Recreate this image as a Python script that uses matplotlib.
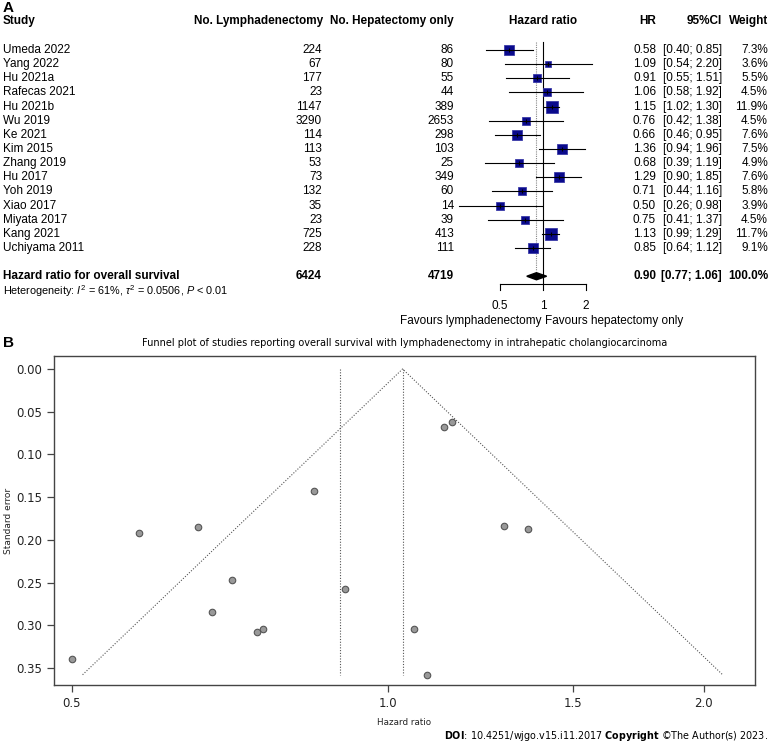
import numpy as np
import matplotlib
matplotlib.use('Agg')
import matplotlib.pyplot as plt
import matplotlib.transforms as mtransforms

# forest plot data (panel A)
studies = ["Umeda 2022", "Yang 2022", "Hu 2021a", "Rafecas 2021", "Hu 2021b",
           "Wu 2019", "Ke 2021", "Kim 2015", "Zhang 2019", "Hu 2017",
           "Yoh 2019", "Xiao 2017", "Miyata 2017", "Kang 2021", "Uchiyama 2011"]
n_lymph = [224, 67, 177, 23, 1147, 3290, 114, 113, 53, 73, 132, 35, 23, 725, 228]
n_hep = [86, 80, 55, 44, 389, 2653, 298, 103, 25, 349, 60, 14, 39, 413, 111]
hr = [0.58, 1.09, 0.91, 1.06, 1.15, 0.76, 0.66, 1.36, 0.68, 1.29, 0.71, 0.50, 0.75, 1.13, 0.85]
ci_lo = [0.40, 0.54, 0.55, 0.58, 1.02, 0.42, 0.46, 0.94, 0.39, 0.90, 0.44, 0.26, 0.41, 0.99, 0.64]
ci_hi = [0.85, 2.20, 1.51, 1.92, 1.30, 1.38, 0.95, 1.96, 1.19, 1.85, 1.16, 0.98, 1.37, 1.29, 1.12]
weight = [7.3, 3.6, 5.5, 4.5, 11.9, 4.5, 7.6, 7.5, 4.9, 7.6, 5.8, 3.9, 4.5, 11.7, 9.1]

total_lymph = 6424
total_hep = 4719
pooled_hr, pooled_lo, pooled_hi = 0.90, 0.77, 1.06
forest_ticks = [0.5, 1, 2]

# funnel plot data (panel B): standard errors
se = [0.192, 0.358, 0.258, 0.305, 0.062, 0.304, 0.185, 0.187, 0.285, 0.184,
      0.247, 0.339, 0.308, 0.068, 0.143]
fixed_hr = 1.033
funnel_xticks = [0.5, 1.0, 1.5, 2.0]
funnel_yticks = [0.00, 0.05, 0.10, 0.15, 0.20, 0.25, 0.30, 0.35]

W, H = 771, 744
fig = plt.figure(figsize=(W / 100, H / 100), dpi=100)


def fx(px):
    return px / W


def fy(py):
    return 1 - py / H


arial = 'Liberation Sans'
tahoma = 'DejaVu Sans'
plt.rcParams['mathtext.fontset'] = 'custom'
plt.rcParams['mathtext.rm'] = arial
plt.rcParams['mathtext.it'] = arial + ':italic'
plt.rcParams['mathtext.bf'] = arial + ':bold'

# ---------------- panel A ----------------
row0, step = 50, 14.14
top_row, bot_row = -3, 20
axf = fig.add_axes([fx(440), fy(row0 + bot_row * step), fx(600) - fx(440),
                    (bot_row - top_row) * step / H])
axf.set_xscale('log')
axf.set_xlim(2 ** ((440 - 543) / 43), 2 ** ((600 - 543) / 43))
axf.set_ylim(bot_row, top_row)
axf.axis('off')

trans = mtransforms.blended_transform_factory(fig.transFigure, axf.transData)
fs = 8.5
navy = '#0a0a8c'

rows = np.arange(len(studies))
overall_row = 16
axis_row = 16.55

# reference lines
axf.plot([1, 1], [-0.6, axis_row], color='black', lw=0.8, zorder=1)
axf.plot([pooled_hr, pooled_hr], [-0.6, 15.6], color='#888888', lw=0.8,
         ls=(0, (1, 1)), zorder=1)

for i in rows:
    axf.plot([ci_lo[i], ci_hi[i]], [i, i], color='black', lw=0.8, zorder=3)
    side = 12.5 * np.sqrt(weight[i] / 11.9) * 0.72
    axf.plot(hr[i], i, marker='s', ms=side, color=navy, mec='#3a3aa8', mew=0.6,
             zorder=2)
    axf.plot(hr[i], i, marker='|', ms=3, color='black', mew=0.8, zorder=4)

# diamond for overall estimate
axf.fill([pooled_lo, pooled_hr, pooled_hi, pooled_hr],
         [overall_row, overall_row - 0.25, overall_row, overall_row + 0.25],
         color='black', zorder=3)

# x axis for forest
axf.plot([forest_ticks[0], forest_ticks[-1]], [axis_row, axis_row], color='black', lw=0.8)
for t in forest_ticks:
    axf.plot([t, t], [axis_row, axis_row + 0.45], color='black', lw=0.8)
    axf.text(t, 18.1, str(t), ha='center', va='center', fontsize=fs, family=arial)
axf.text(0.97, 19.15, 'Favours lymphadenectomy', ha='right', va='center',
         fontsize=fs, family=arial)
axf.text(1.04, 19.15, 'Favours hepatectomy only', ha='left', va='center',
         fontsize=fs, family=arial)

# table text
fig.text(fx(3), fy(8), 'A', ha='left', va='center', fontsize=11, fontweight='bold',
         family=arial)
head_row = -2.05
heads = [(3, 'Study', 'left'), (323, 'No. Lymphadenectomy', 'right'),
         (454, 'No. Hepatectomy only', 'right'), (543, 'Hazard ratio', 'center'),
         (656, 'HR', 'right'), (722, '95%CI', 'right'), (768, 'Weight', 'right')]
for x, s, ha in heads:
    axf.text(fx(x), head_row, s, transform=trans, ha=ha, va='center', fontsize=fs,
             fontweight='bold', family=arial)

for i in rows:
    cells = [(3, studies[i], 'left'), (322, str(n_lymph[i]), 'right'),
             (454, str(n_hep[i]), 'right'), (656, f'{hr[i]:.2f}', 'right'),
             (722, f'[{ci_lo[i]:.2f}; {ci_hi[i]:.2f}]', 'right'),
             (768, f'{weight[i]:.1f}%', 'right')]
    for x, s, ha in cells:
        axf.text(fx(x), i, s, transform=trans, ha=ha, va='center', fontsize=fs,
                 family=arial)

overall = [(3, 'Hazard ratio for overall survival', 'left'),
           (322, str(total_lymph), 'right'), (454, str(total_hep), 'right'),
           (656, f'{pooled_hr:.2f}', 'right'),
           (722, f'[{pooled_lo:.2f}; {pooled_hi:.2f}]', 'right'),
           (768, '100.0%', 'right')]
for x, s, ha in overall:
    axf.text(fx(x), overall_row, s, transform=trans, ha=ha, va='center', fontsize=fs,
             fontweight='bold', family=arial)
axf.text(fx(3), 17.05,
         r'Heterogeneity: $\mathit{I}^2$ = 61%, $\tau^2$ = 0.0506, $\mathit{P}$ < 0.01',
         transform=trans, ha='left', va='center', fontsize=7.8, family=arial)

# ---------------- panel B ----------------
fig.text(fx(3), fy(343), 'B', ha='left', va='center', fontsize=11, fontweight='bold',
         family=arial)
fig.text(fx(405), fy(343),
         'Funnel plot of studies reporting overall survival with lymphadenectomy '
         'in intrahepatic cholangiocarcinoma',
         ha='center', va='center', fontsize=7, family=tahoma)

axb = fig.add_axes([fx(54), fy(685), fx(755) - fx(54), (685 - 356) / H])
axb.set_xscale('log')
axb.set_xlim(0.481, 2.237)
axb.set_ylim(0.37, -0.0152)
axb.set_xticks(funnel_xticks)
axb.set_xticklabels([f'{t:.1f}' for t in funnel_xticks])
axb.xaxis.set_minor_locator(matplotlib.ticker.NullLocator())
axb.set_yticks(funnel_yticks)
axb.set_yticklabels([f'{t:.2f}' for t in funnel_yticks])
for sp in axb.spines.values():
    sp.set_color('#444444')
    sp.set_linewidth(1.0)
axb.tick_params(length=5, width=0.9, color='#444444', labelsize=8.5,
                labelcolor='#222222')
for lab in axb.get_xticklabels() + axb.get_yticklabels():
    lab.set_family(tahoma)

se_max = max(se)
z = 1.96
lo_edge = np.exp(np.log(fixed_hr) - z * se_max)
hi_edge = np.exp(np.log(fixed_hr) + z * se_max)
dot = (0, (1, 1.5))
axb.plot([lo_edge, fixed_hr, hi_edge], [se_max, 0, se_max], color='#555555', lw=0.8,
         ls=dot, zorder=1)
axb.plot([fixed_hr, fixed_hr], [0, se_max], color='#555555', lw=0.8, ls=dot, zorder=1)
axb.plot([pooled_hr, pooled_hr], [0, se_max], color='#555555', lw=0.8, ls=dot, zorder=1)

axb.scatter(hr, se, s=22, c='#999999', edgecolors='#555555', linewidths=0.8, zorder=3)

axb.set_ylabel('Standard error', fontsize=6.5, family=tahoma, color='#222222',
               labelpad=2)
axb.set_xlabel('Hazard ratio', fontsize=6.3, family=tahoma, color='#222222',
               labelpad=6)

fig.text(fx(768), fy(736),
         r'$\bf{DOI}$: 10.4251/wjgo.v15.i11.2017 $\bf{Copyright}$ ©The Author(s) 2023.',
         ha='right', va='center', fontsize=6.9, family=tahoma, math_fontfamily='dejavusans')

fig.savefig('out.png', dpi=100)
